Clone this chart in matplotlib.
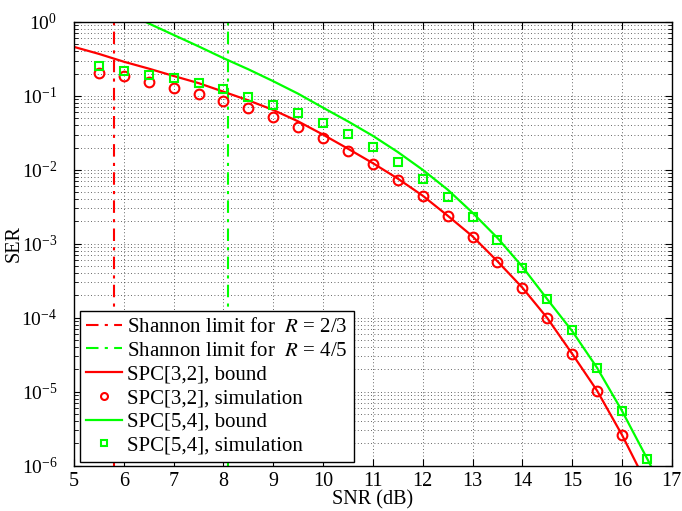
import numpy as np
import matplotlib
matplotlib.use("Agg")
import matplotlib.pyplot as plt
from matplotlib.ticker import LogLocator, NullFormatter, FixedLocator

plt.rcParams['font.family'] = ['Liberation Serif', 'DejaVu Serif']
plt.rcParams['mathtext.fontset'] = 'stix'

# Shannon limits (dB)
shannon_labels = ["Shannon limit for  $R$ = 2/3", "Shannon limit for  $R$ = 4/5"]
shannon_snr = [5.81, 8.09]

# Bound curves
snr_bound_32 = [5.0, 5.5, 6.0, 6.5, 7.0, 7.5, 8.0, 8.5, 9.0, 9.5, 10.0, 10.5, 11.0,
                11.5, 12.0, 12.5, 13.0, 13.5, 14.0, 14.5, 15.0, 15.5, 16.0, 16.5]
ser_bound_32 = [0.46, 0.37, 0.29, 0.234, 0.186, 0.149, 0.114, 0.087, 0.0645, 0.0452,
                0.0299, 0.0193, 0.0123, 0.0076, 0.00447, 0.0024, 0.00126, 5.8e-4,
                2.55e-4, 9.9e-5, 3.25e-5, 1.03e-5, 2.6e-6, 5.6e-7]

snr_bound_54 = [6.44, 6.5, 7.0, 7.5, 8.0, 8.5, 9.0, 9.5, 10.0, 10.5, 11.0, 11.5, 12.0,
                12.5, 13.0, 13.5, 14.0, 14.5, 15.0, 15.5, 16.0, 16.5, 17.0]
ser_bound_54 = [1.0, 0.955, 0.668, 0.468, 0.324, 0.229, 0.158, 0.107, 0.0692, 0.0452,
                0.0288, 0.0174, 0.0100, 0.0054, 0.00263, 0.0012, 4.9e-4, 1.78e-4,
                6.6e-5, 2.1e-5, 5.5e-6, 1.26e-6, 2.8e-7]

# Simulations
snr_sim_32 = [5.5, 6.0, 6.5, 7.0, 7.5, 8.0, 8.5, 9.0, 9.5, 10.0, 10.5, 11.0, 11.5,
              12.0, 12.5, 13.0, 13.5, 14.0, 14.5, 15.0, 15.5, 16.0]
ser_sim_32 = [0.206, 0.186, 0.156, 0.127, 0.105, 0.0865, 0.068, 0.0515, 0.0377,
              0.0273, 0.0182, 0.0121, 0.00733, 0.00436, 0.00234, 0.00122, 5.65e-4,
              2.54e-4, 9.9e-5, 3.23e-5, 1.03e-5, 2.57e-6]

snr_sim_54 = [5.5, 6.0, 6.5, 7.0, 7.5, 8.0, 8.5, 9.0, 9.5, 10.0, 10.5, 11.0, 11.5,
              12.0, 12.5, 13.0, 13.5, 14.0, 14.5, 15.0, 15.5, 16.0, 16.5]
ser_sim_54 = [0.257, 0.218, 0.192, 0.173, 0.151, 0.123, 0.097, 0.076, 0.0583, 0.0432,
              0.0304, 0.0205, 0.0128, 0.00755, 0.00432, 0.00227, 0.00113, 4.68e-4,
              1.77e-4, 6.76e-5, 2.07e-5, 5.42e-6, 1.23e-6]

labels = ["SPC[3,2], bound", "SPC[3,2], simulation", "SPC[5,4], bound", "SPC[5,4], simulation"]
x_ticks = list(range(5, 18))

RED = (1, 0, 0)
GREEN = (0, 1, 0)
dashdot = (0, (6, 3, 1.5, 3))

fig = plt.figure(figsize=(6.82, 5.11), dpi=100)
ax = fig.add_axes([0.1085, 0.089, 0.8765, 0.868])

ax.axvline(shannon_snr[0], color=RED, lw=1.5, ls=dashdot, label=shannon_labels[0])
ax.axvline(shannon_snr[1], color=GREEN, lw=1.5, ls=dashdot, label=shannon_labels[1])
ax.plot(snr_bound_32, ser_bound_32, color=RED, lw=1.6, label=labels[0])
ax.plot(snr_sim_32, ser_sim_32, ls='none', marker='o', ms=7, mfc='none', mec=RED,
        mew=1.5, label=labels[1])
ax.plot(snr_bound_54, ser_bound_54, color=GREEN, lw=1.6, label=labels[2])
ax.plot(snr_sim_54, ser_sim_54, ls='none', marker='s', ms=5.5, mfc='none', mec=GREEN,
        mew=1.5, label=labels[3])

ax.set_yscale('log')
ax.set_xlim(5, 17)
ax.set_ylim(1e-6, 1)
ax.xaxis.set_major_locator(FixedLocator(x_ticks))
ax.yaxis.set_major_locator(LogLocator(base=10, numticks=10))
ax.yaxis.set_minor_locator(LogLocator(base=10, subs=np.arange(2, 10), numticks=20))
ax.yaxis.set_minor_formatter(NullFormatter())

ax.grid(True, which='major', color='black', ls=(0, (1, 3)), lw=0.6, alpha=0.8)
ax.grid(True, which='minor', axis='y', color='black', ls=(0, (1, 3)), lw=0.6, alpha=0.8)
ax.set_axisbelow(True)

ax.tick_params(which='both', direction='in', top=True, right=True)
ax.tick_params(axis='x', labelsize=14.5, pad=5)
ax.tick_params(axis='y', labelsize=14, pad=12)
ax.tick_params(which='major', length=5, width=0.8)
ax.tick_params(which='minor', length=3, width=0.6)
for s in ax.spines.values():
    s.set_linewidth(1.0)

ax.set_xlabel("SNR (dB)", fontsize=14.5, labelpad=-1)
ax.set_ylabel("SER", fontsize=14.5)
ax.yaxis.set_label_coords(-0.085, 0.5)

leg = ax.legend(loc='lower left', bbox_to_anchor=(0.01, 0.008), fontsize=15,
                frameon=True, fancybox=False, edgecolor='black', framealpha=1,
                borderaxespad=0, handlelength=1.7, handletextpad=0.25,
                labelspacing=0.2, borderpad=0.3, numpoints=1)
leg.get_frame().set_linewidth(1.0)
for h in leg.legend_handles:
    if h.get_marker() == 'o':
        h.set_markersize(5)
    elif h.get_marker() == 's':
        h.set_markersize(4)

fig.savefig("out.png", dpi=100)
